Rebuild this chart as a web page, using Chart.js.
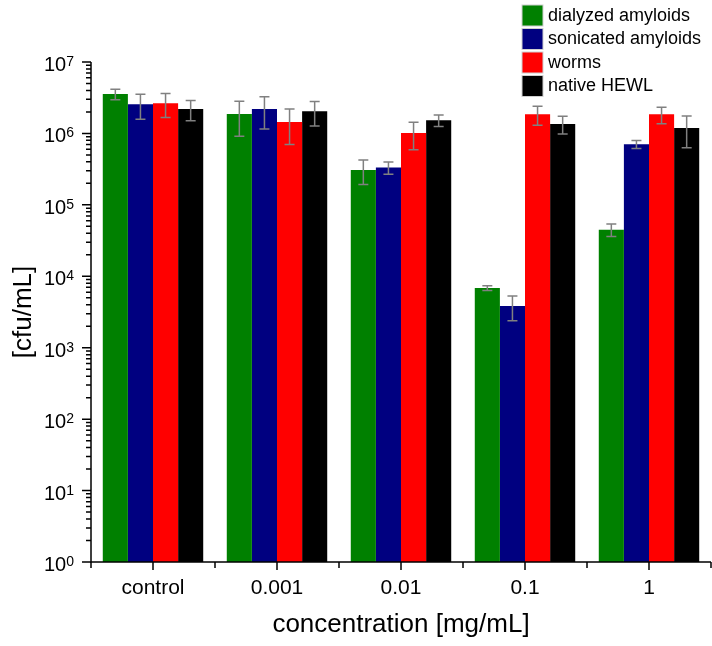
<!DOCTYPE html>
<html><head><meta charset="utf-8">
<script src="https://cdn.jsdelivr.net/npm/chart.js@4/dist/chart.umd.min.js"></script>
<style>html,body{margin:0;padding:0;background:#fff}</style>
</head><body>
<canvas id="c" width="712" height="646"></canvas>
<script>
const categories = ['control', '0.001', '0.01', '0.1', '1'];
const seriesNames = ['dialyzed amyloids', 'sonicated amyloids', 'worms', 'native HEWL'];
const seriesColors = ['#008000', '#000080', '#ff0000', '#000000'];
const dialyzed    = [3.56e6, 1.87e6, 3.08e5, 6.85e3, 4.5e4];
const dialyzedErr = [0.6e6, 0.96e6, 1.15e5, 0.55e3, 0.88e4];
const sonicated    = [2.56e6, 2.20e6, 3.33e5, 3.84e3, 7.05e5];
const sonicatedErr = [0.98e6, 1.05e6, 0.65e5, 1.45e3, 0.9e5];
const worms    = [2.64e6, 1.45e6, 1.01e6, 1.85e6, 1.85e6];
const wormsErr = [0.97e6, 0.75e6, 0.42e6, 0.55e6, 0.48e6];
const hewl    = [2.20e6, 2.04e6, 1.53e6, 1.36e6, 1.19e6];
const hewlErr = [0.7e6, 0.77e6, 0.28e6, 0.38e6, 0.56e6];
const yExponents = [0, 1, 2, 3, 4, 5, 6, 7];
const xTitle = 'concentration [mg/mL]';
const yTitle = '[cfu/mL]';

const seriesValues = [dialyzed, sonicated, worms, hewl];
const seriesErrors = [dialyzedErr, sonicatedErr, wormsErr, hewlErr];

const FONT = '"Liberation Sans", Arial, sans-serif';

const errorBarPlugin = {
  id: 'errorBars',
  afterDatasetsDraw(chart) {
    const ctx = chart.ctx;
    const ys = chart.scales.y;
    ctx.save();
    ctx.strokeStyle = '#808080';
    ctx.lineWidth = 1.5;
    chart.data.datasets.forEach((ds, i) => {
      const meta = chart.getDatasetMeta(i);
      const errs = seriesErrors[i];
      meta.data.forEach((el, j) => {
        const v = ds.data[j], e = errs[j];
        const yTop = ys.getPixelForValue(v + e);
        const yBot = ys.getPixelForValue(Math.max(v - e, 1));
        const x = el.x;
        ctx.beginPath();
        ctx.moveTo(x, yTop); ctx.lineTo(x, yBot);
        ctx.moveTo(x - 5, yTop); ctx.lineTo(x + 5, yTop);
        ctx.moveTo(x - 5, yBot); ctx.lineTo(x + 5, yBot);
        ctx.stroke();
      });
    });
    ctx.restore();
  }
};

const axesPlugin = {
  id: 'customAxes',
  afterDraw(chart) {
    const ctx = chart.ctx;
    const xs = chart.scales.x, ys = chart.scales.y;
    const area = chart.chartArea;
    ctx.save();
    ctx.strokeStyle = '#000';
    ctx.lineWidth = 1.5;
    // axis lines
    ctx.beginPath();
    ctx.moveTo(area.left, area.top);
    ctx.lineTo(area.left, area.bottom);
    ctx.lineTo(area.right, area.bottom);
    ctx.stroke();
    // y ticks
    ctx.beginPath();
    yExponents.forEach((k) => {
      const y = ys.getPixelForValue(Math.pow(10, k));
      ctx.moveTo(area.left - 9, y); ctx.lineTo(area.left, y);
      if (k < yExponents[yExponents.length - 1]) {
        for (let m = 2; m <= 9; m++) {
          const ym = ys.getPixelForValue(m * Math.pow(10, k));
          ctx.moveTo(area.left - 5, ym); ctx.lineTo(area.left, ym);
        }
      }
    });
    // x ticks: centers and boundaries
    categories.forEach((c, i) => {
      const x = xs.getPixelForValue(i);
      ctx.moveTo(x, area.bottom); ctx.lineTo(x, area.bottom + 8);
    });
    for (let i = 0; i <= categories.length; i++) {
      const x = xs.getPixelForValue(i - 0.5);
      ctx.moveTo(x, area.bottom); ctx.lineTo(x, area.bottom + 6);
    }
    ctx.stroke();

    ctx.fillStyle = '#000';
    // y labels
    yExponents.forEach((k) => {
      const y = ys.getPixelForValue(Math.pow(10, k));
      ctx.font = '14px ' + FONT;
      const supW = ctx.measureText(String(k)).width;
      const right = 74;
      ctx.textAlign = 'left';
      ctx.textBaseline = 'alphabetic';
      ctx.fillText(String(k), right - supW, y + 4);
      ctx.font = '20px ' + FONT;
      ctx.textAlign = 'right';
      ctx.fillText('10', right - supW, y + 9);
    });
    // x labels
    ctx.font = '21px ' + FONT;
    ctx.textAlign = 'center';
    ctx.textBaseline = 'alphabetic';
    categories.forEach((c, i) => {
      ctx.fillText(c, xs.getPixelForValue(i), 594);
    });
    // titles
    ctx.font = '26px ' + FONT;
    ctx.textBaseline = 'middle';
    ctx.fillText(xTitle, (area.left + area.right) / 2, 625);
    ctx.save();
    ctx.translate(24, (area.top + area.bottom) / 2);
    ctx.rotate(-Math.PI / 2);
    ctx.fillText(yTitle, 0, 0);
    ctx.restore();

    // legend
    ctx.font = '18px ' + FONT;
    ctx.textAlign = 'left';
    ctx.textBaseline = 'middle';
    seriesNames.forEach((name, i) => {
      const top = 5 + i * 23.5;
      ctx.fillStyle = seriesColors[i];
      ctx.fillRect(522, top, 21, 21);
      ctx.strokeStyle = '#d0d0d0';
      ctx.lineWidth = 1;
      ctx.strokeRect(522, top, 21, 21);
      ctx.fillStyle = '#000';
      ctx.fillText(name, 548, top + 11);
    });
    ctx.restore();
  }
};

new Chart(document.getElementById('c'), {
  type: 'bar',
  data: {
    labels: categories,
    datasets: seriesNames.map((name, i) => ({
      label: name,
      data: seriesValues[i],
      backgroundColor: seriesColors[i],
      borderWidth: 0,
      categoryPercentage: 0.81,
      barPercentage: 1.0
    }))
  },
  options: {
    responsive: false,
    animation: false,
    devicePixelRatio: 1,
    layout: { padding: { top: 62, right: 1, left: 0, bottom: 0 } },
    plugins: { legend: { display: false }, tooltip: { enabled: false } },
    scales: {
      x: {
        type: 'category',
        ticks: { display: false },
        grid: { display: false },
        border: { display: false },
        afterFit: (s) => { s.height = 84; }
      },
      y: {
        type: 'logarithmic',
        min: 1,
        max: 1e7,
        ticks: { display: false },
        grid: { display: false },
        border: { display: false },
        afterFit: (s) => { s.width = 91; }
      }
    }
  },
  plugins: [errorBarPlugin, axesPlugin]
});
</script>
</body></html>
